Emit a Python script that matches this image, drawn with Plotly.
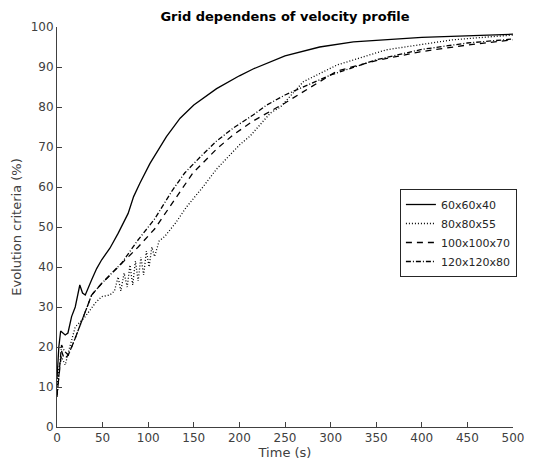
import plotly.graph_objects as go

# Time values (s) and evolution criteria (%)
t_60 = [0, 1, 2, 4, 5, 9, 12, 16, 20, 25, 28, 31, 38, 43.5, 49, 58, 67, 78, 84, 91,
        102, 120, 135, 150, 175, 200, 215, 250, 288, 325, 400, 470, 500]
v_60 = [12, 16, 20, 24, 23.8, 23, 23.5, 27.6, 30, 35.5, 33.5, 33, 36.8, 39.6, 41.8,
        44.7, 48.4, 53.4, 57.6, 61, 65.9, 72.6, 77.2, 80.5, 84.6, 87.8, 89.5, 92.8, 95,
        96.3, 97.4, 98, 98.2]

t_80 = [0, 1.5, 5, 9, 14, 20, 31, 42, 49, 58, 63, 67, 70, 73.6, 77, 80, 83, 86, 89,
        92, 95, 98, 101, 104, 107, 112, 118, 130, 142, 160, 175, 200, 212, 234, 245,
        270, 307, 361, 434, 500]
v_80 = [9, 14, 17.5, 15.5, 20, 25, 27.6, 31, 32.6, 33, 34, 37.5, 34, 38.5, 35, 40.5,
        35.5, 41.5, 36.5, 42.5, 38, 44, 40, 45, 42.6, 46.5, 47.6, 51, 55, 60, 64.5,
        70.5, 72.8, 78.5, 80, 86.3, 90.5, 94.3, 96.8, 98]

t_100 = [0, 1.5, 5, 8, 12.4, 19.6, 31, 38, 49, 60, 71, 89, 107, 125, 149, 175, 193,
         215, 250, 307, 350, 398, 450, 500]
v_100 = [8, 11, 19, 17, 18, 22, 29, 33, 35.9, 38.4, 41, 45, 49.5, 55.5, 63.5, 69.5, 73,
         76.5, 81, 89, 91.6, 93.8, 95.5, 96.8]

t_120 = [0, 1.5, 5, 8, 12.4, 19.6, 31, 38, 49, 60, 71, 88, 107, 126, 140, 157, 175,
         193, 215, 230, 250, 300, 350, 400, 450, 500]
v_120 = [7.5, 11, 20.5, 19, 18, 22, 29, 33, 35.9, 38.4, 41, 46.5, 52, 59, 63.5, 67.5,
         71.5, 74.7, 78, 80.5, 83, 88, 91.8, 94.4, 96, 97]

series = [
    ("60x60x40", t_60, v_60, "solid"),
    ("80x80x55", t_80, v_80, "1px,2px"),
    ("100x100x70", t_100, v_100, "6px,5px"),
    ("120x120x80", t_120, v_120, "5px,2px,1px,2px"),
]

fig = go.Figure()
for name, t, v, dash in series:
    fig.add_trace(go.Scatter(x=t, y=v, name=name, mode="lines",
                             line=dict(color="black", width=1.3, dash=dash)))

axis_style = dict(showline=True, linecolor="#404040", linewidth=1, ticks="inside",
                  ticklen=5, tickcolor="#404040", showgrid=False, zeroline=False,
                  tickfont=dict(size=12, color="#404040"), mirror=False,
                  automargin=False)

fig.update_layout(
    width=538, height=461,
    margin=dict(l=57, r=25, t=27, b=34),
    paper_bgcolor="white", plot_bgcolor="white",
    font=dict(family="DejaVu Sans", color="#262626"),
    title=dict(text="<b>Grid dependens of velocity profile</b>", xref="paper", x=0.5,
               xanchor="center", yref="container", y=0.965, yanchor="middle",
               font=dict(size=13, color="black")),
    xaxis=dict(range=[0, 500], dtick=50,
               title=dict(text="Time (s)", standoff=2, font=dict(size=13, color="#404040")),
               **axis_style),
    yaxis=dict(range=[0, 100], dtick=10,
               title=dict(text="Evolution criteria (%)", standoff=6,
                          font=dict(size=13, color="#404040")),
               **axis_style),
    legend=dict(x=0.752, y=0.595, xanchor="left", yanchor="top", bgcolor="white",
                bordercolor="#262626", borderwidth=1, font=dict(size=11, color="#262626"),
                tracegroupgap=0, itemwidth=30),
    showlegend=True,
)

fig.write_html("out.html", config={"displayModeBar": False},
               post_script="document.body.style.margin='0';")
